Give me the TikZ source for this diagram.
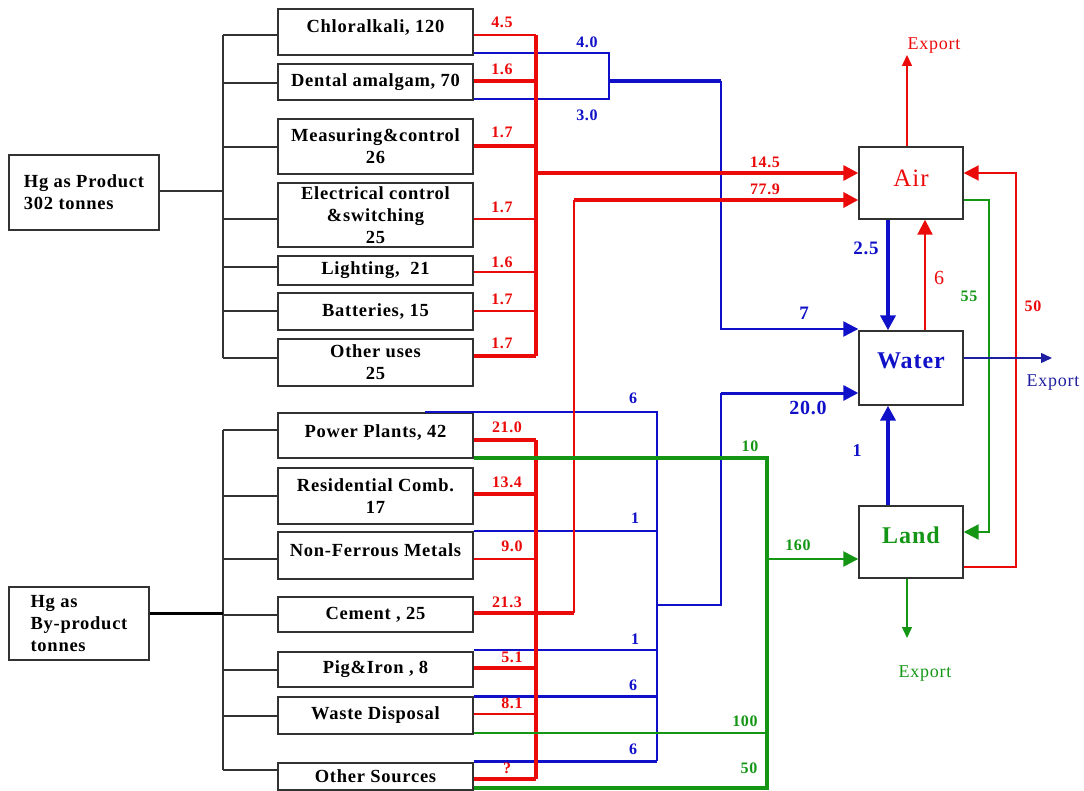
\documentclass[tikz,border=0pt]{standalone}
\usepackage{fontspec}
\setmainfont{Liberation Serif}
\newfontfamily\spfam[LetterSpace=4]{Liberation Serif}
\usetikzlibrary{arrows.meta}
\definecolor{cR}{RGB}{235,10,10}
\definecolor{cB}{RGB}{16,16,200}
\definecolor{cG}{RGB}{20,150,20}
\definecolor{cK}{RGB}{50,50,50}
\definecolor{cDB}{RGB}{30,30,160}
\newcommand\boxfont{\spfam\bfseries\fontsize{18.5}{22}\selectfont}
\newcommand\numfont{\spfam\bfseries\fontsize{16}{18}\selectfont}
\newcommand\bignum{\spfam\bfseries\fontsize{19}{21}\selectfont}
\newcommand\expfont{\spfam\fontsize{18}{20}\selectfont}
\tikzset{
  box/.style={draw=cK, line width=1.4pt, minimum width=195pt, inner sep=1pt, align=center, font=\boxfont},
  src/.style={draw=cK, line width=1.4pt, inner sep=1pt, align=left, font=\boxfont},
  sink/.style={draw=cK, line width=1.4pt, minimum width=104pt, inner sep=1pt, font=\spfam\fontsize{25}{27}\selectfont},
  tick/.style={draw=cK, line width=1.3pt},
  big/.style={-{Triangle[length=15pt,width=15pt]}},
  small/.style={-{Triangle[length=11pt,width=10pt]}},
  num/.style={font=\numfont, inner sep=0pt},
  lab/.style={font=\bignum, inner sep=0pt},
  exptext/.style={font=\expfont, inner sep=0pt, anchor=base},
}
\begin{document}
\begin{tikzpicture}[x=1pt,y=-1pt]
\useasboundingbox (0,0) rectangle (1084,791);
% ---------- source boxes
\node[src, minimum width=150pt, minimum height=75pt] (prod) at (84,192.5) {Hg as Product\\302 tonnes};
\node[src, minimum width=140pt, minimum height=73pt] (byprod) at (79,623.5) {Hg as\\By-product\\tonnes};
% ---------- product boxes
\node[box, minimum height=46pt, text depth=12pt] (chlor) at (375.5,32) {Chloralkali, 120};
\node[box, minimum height=36pt] (dental) at (375.5,82) {Dental amalgam, 70};
\node[box, minimum height=55pt] (meas) at (375.5,146.5) {Measuring\&control\\26};
\node[box, minimum height=64pt] (elec) at (375.5,215) {Electrical control\\\&switching\\25};
\node[box, minimum height=29pt] (light) at (375.5,270.5) {Lighting,\ \ 21};
\node[box, minimum height=37pt] (batt) at (375.5,311.5) {Batteries, 15};
\node[box, minimum height=47pt] (other) at (375.5,362.5) {Other uses\\25};
% ---------- by-product boxes
\node[box, minimum height=45pt, text depth=8pt] (power) at (375.5,435.5) {Power Plants, 42};
\node[box, minimum height=56pt] (resid) at (375.5,496) {Residential Comb.\\17};
\node[box, minimum height=47pt, text depth=11pt] (nonfe) at (375.5,555.5) {Non-Ferrous Metals};
\node[box, minimum height=35pt] (cement) at (375.5,614.5) {Cement , 25};
\node[box, minimum height=35pt] (pig) at (375.5,669.5) {Pig\&Iron , 8};
\node[box, minimum height=37pt] (waste) at (375.5,715.5) {Waste Disposal};
\node[box, minimum height=27pt] (othsrc) at (375.5,776.5) {Other Sources};
% ---------- sinks
\node[sink, minimum height=72pt, text depth=10pt, text=cR] (air) at (911,183) {Air};
\node[sink, minimum height=74pt, text depth=14pt, text=cB, font=\spfam\bfseries\fontsize{24}{26}\selectfont] (water) at (911,368) {Water};
\node[sink, minimum height=72pt, text depth=13pt, text=cG, font=\spfam\bfseries\fontsize{24}{26}\selectfont] (land) at (911,542) {Land};
% ---------- bracket spines
\coordinate (pspT) at (223,35);
\coordinate (pspB) at (223,358);
\coordinate (bspT) at (223,430);
\coordinate (bspB) at (223,770);
\draw[tick] (pspT) -- (pspB);
\draw[tick] (bspT) -- (bspB);
\draw[tick] (prod.east |- 0,191) -- (pspT |- 0,191);
\draw[draw=black, line width=3pt] (byprod.east |- 0,613) -- (bspT |- 0,613);
\foreach \n/\y in {chlor/35, dental/83, meas/147, elec/219, light/267, batt/311, other/358,
                   power/430, resid/496, nonfe/559, cement/615, pig/670, waste/716, othsrc/770}
  \draw[tick] (pspT |- 0,\y) -- (\n.west |- 0,\y);
% ---------- blue flows (to water)
\coordinate (bj1) at (609,81);
\coordinate (bk1) at (721,81);
\draw[cB, line width=1.8pt] (chlor.east |- 0,53) -- (609,53) -- (609,99) -- (dental.east |- 0,99);
\draw[cB, line width=3.5pt] (bj1) -- (bk1);
\draw[cB, line width=2.2pt, big] (bk1) -- (721,329) -- (water.west |- 0,329);
\coordinate (bfree) at (425,412);
\coordinate (bv) at (657,412);
\draw[cB, line width=1.8pt] (bfree) -- (bv) -- (657,761);
\foreach \n/\y/\w in {nonfe/531/1.8pt, pig/650/1.8pt, waste/696/3pt, othsrc/761/3pt}
  \draw[cB, line width=\w] (\n.east |- 0,\y) -- (bv |- 0,\y);
\draw[cB, line width=2.4pt] (bv |- 0,605) -- (721,605) -- (721,393);
\draw[cB, line width=3pt, big] (721,393) -- (water.west |- 0,393);
% ---------- red flows (to air)
\coordinate (rbus) at (536,35);
\foreach \n/\y/\w in {chlor/35/1.8pt, dental/81/3.5pt, meas/146/3.5pt, elec/219/2.3pt, light/272/2.3pt, batt/311/1.5pt, other/356/3.2pt}
  \draw[cR, line width=\w] (\n.east |- 0,\y) -- (rbus |- 0,\y);
\draw[cR, line width=4pt] (rbus) -- (536,356);
\draw[cR, line width=3.2pt, big] (rbus |- 0,173) -- (air.west |- 0,173);
\foreach \n/\y/\w in {power/440/3.5pt, resid/494/3.5pt, nonfe/559/2.3pt, pig/668/3.5pt, waste/714/2.3pt, othsrc/779/3.5pt}
  \draw[cR, line width=\w] (\n.east |- 0,\y) -- (rbus |- 0,\y);
\draw[cR, line width=4pt] (536,440) -- (536,779);
\coordinate (rv) at (574,613);
\draw[cR, line width=3.5pt] (cement.east |- 0,613) -- (rv);
\draw[cR, line width=2.2pt] (rv) -- (574,200);
\draw[cR, line width=3.5pt, big] (574,200) -- (air.west |- 0,200);
% ---------- green flows (to land)
\coordinate (gv) at (767,458);
\draw[cG, line width=3.5pt] (power.east |- 0,458) -- (gv) -- (767,788) -- (othsrc.east |- 0,788);
\draw[cG, line width=2pt] (waste.east |- 0,733) -- (gv |- 0,733);
\draw[cG, line width=2.5pt, big] (gv |- 0,559) -- (land.west |- 0,559);
% ---------- exchanges between sinks
\draw[cB, line width=4pt, big] (air.south -| 888,0) -- (water.north -| 888,0);
\draw[cR, line width=2pt, big] (water.north -| 925,0) -- (air.south -| 925,0);
\draw[cG, line width=2.2pt, big] (air.east |- 0,200) -- (989,200) -- (989,532) -- (land.east |- 0,532);
\draw[cR, line width=2pt, big] (land.east |- 0,567) -- (1016,567) -- (1016,173) -- (air.east |- 0,173);
\draw[cB, line width=4pt, big] (land.north -| 888,0) -- (water.south -| 888,0);
% ---------- exports
\coordinate (eA) at (907,55);
\coordinate (eW) at (1052,358);
\coordinate (eL) at (907,638);
\draw[cR, line width=1.5pt, small] (air.north -| eA) -- (eA);
\draw[cDB, line width=1.4pt, small] (water.east |- eW) -- (eW);
\draw[cG, line width=1.4pt, small] (land.south -| eL) -- (eL);
\node[exptext, text=cR] (xA) at (934,50) {Export};
\node[exptext, text=cDB] (xW) at (1053,387) {Export};
\node[exptext, text=cG] (xL) at (925,677) {Export};
% ---------- red labels
\foreach \t/\x/\y [count=\i] in {4.5/502/22, 1.6/502/69, 1.7/502/132, 1.7/502/207, 1.6/502/262, 1.7/502/299, 1.7/502/343,
   21.0/507/427, 13.4/507/482, 9.0/512/546, 21.3/507/602, 5.1/512/657, 8.1/512/703, ?/507/768}
  \node[num, text=cR] (rl\i) at (\x,\y) {\t};
% ---------- blue labels
\foreach \t/\x/\y [count=\i] in {4.0/587/42, 3.0/587/115, 6/633/398, 1/635/518, 1/635/639, 6/633/685, 6/633/749}
  \node[num, text=cB] (bl\i) at (\x,\y) {\t};
% ---------- green labels
\foreach \t/\x/\y [count=\i] in {10/750/446, 100/745/721, 50/749/768, 160/798/545, 55/969/296}
  \node[num, text=cG] (gl\i) at (\x,\y) {\t};
\node[num, text=cR] (l145) at (765,162) {14.5};
\node[num, text=cR] (l779) at (765,189) {77.9};
\node[num, text=cR] (l50) at (1033,306) {50};
\node[lab, text=cB] (l7) at (804,313) {7};
\node[lab, text=cB, font=\spfam\bfseries\fontsize{20}{22}\selectfont] (l20) at (808,408) {20.0};
\node[lab, text=cB] (l25) at (866,248.5) {2.5};
\node[lab, text=cB, font=\spfam\bfseries\fontsize{18}{20}\selectfont] (l1) at (857,451) {1};
\node[lab, text=cR, font=\spfam\fontsize{20}{22}\selectfont] (l6) at (939,278) {6};
\end{tikzpicture}
\end{document}
